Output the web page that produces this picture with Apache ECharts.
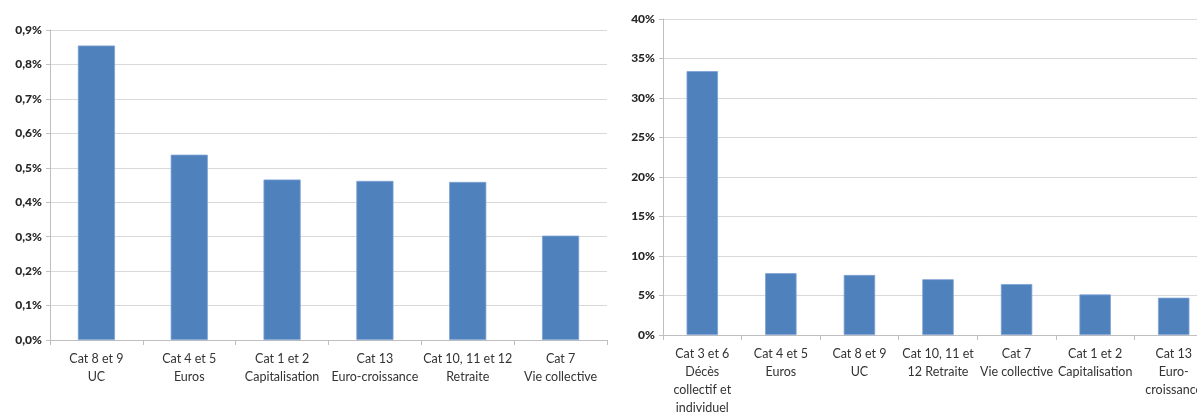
<!DOCTYPE html>
<html>
<head>
<meta charset="utf-8">
<script src="https://cdn.jsdelivr.net/npm/echarts@6/dist/echarts.min.js"></script>
<style>
html,body{margin:0;padding:0;background:#fff;}
#c{width:1197px;height:414px;}
</style>
</head>
<body>
<div id="c"></div>
<script>
// Left chart: categories and values (in %)
const leftCategories = ["Cat 8 et 9\nUC", "Cat 4 et 5\nEuros", "Cat 1 et 2\nCapitalisation", "Cat 13\nEuro-croissance", "Cat 10, 11 et 12\nRetraite", "Cat 7\nVie collective"];
const leftValues = [0.855, 0.538, 0.466, 0.462, 0.459, 0.303];

// Right chart: categories and values (in %)
const rightCategories = ["Cat 3 et 6\nDécès\ncollectif et\nindividuel", "Cat 4 et 5\nEuros", "Cat 8 et 9\nUC", "Cat 10, 11 et\n12 Retraite", "Cat 7\nVie collective", "Cat 1 et 2\nCapitalisation", "Cat 13\nEuro-\ncroissance"];
const rightValues = [33.4, 7.82, 7.6, 7.06, 6.45, 5.13, 4.72];

const FONT = "Lato, 'Open Sans', sans-serif";
const barColor = "#4F81BD";
const gridColor = "#D9D9D9";
const axisColor = "#BFBFBF";

const chart = echarts.init(document.getElementById('c'), null, {renderer: 'canvas'});

function yAxis(gridIndex, max, interval, fmt) {
  return {
    type: 'value', gridIndex, min: 0, max, interval,
    axisLine: {show: true, lineStyle: {color: axisColor}},
    axisTick: {show: true, length: 4, lineStyle: {color: axisColor}},
    splitLine: {show: true, lineStyle: {color: gridColor, width: 1}},
    axisLabel: {formatter: fmt, color: '#262626', fontFamily: FONT, fontSize: 12, fontWeight: 900, margin: 8}
  };
}
function xAxis(gridIndex, data, margin) {
  return {
    type: 'category', gridIndex, data,
    axisLine: {show: true, lineStyle: {color: axisColor}},
    axisTick: {show: true, length: 5, alignWithLabel: false, lineStyle: {color: axisColor}},
    axisLabel: {interval: 0, color: '#333', fontFamily: FONT, fontSize: 12.5, lineHeight: 18, margin, hideOverlap: false}
  };
}

chart.setOption({
  animation: false,
  grid: [
    {left: 50, top: 30, width: 557, height: 310, outerBoundsMode: 'none', containLabel: false},
    {left: 663, top: 19, width: 550, height: 316, outerBoundsMode: 'none', containLabel: false}
  ],
  xAxis: [xAxis(0, leftCategories, 10), xAxis(1, rightCategories, 10)],
  yAxis: [
    yAxis(0, 0.9, 0.1, v => v.toFixed(1).replace('.', ',') + '%'),
    yAxis(1, 40, 5, v => v + '%')
  ],
  series: [
    {type: 'bar', xAxisIndex: 0, yAxisIndex: 0, data: leftValues, barCategoryGap: '60%',
     itemStyle: {color: barColor, borderColor: '#7DA2D4', borderWidth: 0.8}},
    {type: 'bar', xAxisIndex: 1, yAxisIndex: 1, data: rightValues, barCategoryGap: '60%',
     itemStyle: {color: barColor, borderColor: '#7DA2D4', borderWidth: 0.8}}
  ]
});
</script>
</body>
</html>
